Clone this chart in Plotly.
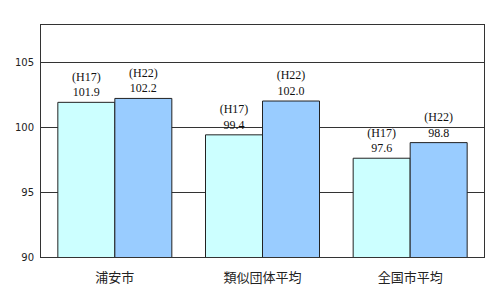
import plotly.graph_objects as go

categories = ["浦安市", "類似団体平均", "全国市平均"]
h17_values = [101.9, 99.4, 97.6]
h22_values = [102.2, 102.0, 98.8]
series_names = ["H17", "H22"]
y_ticks = [90, 95, 100, 105]

def labels(name, vals):
    return [f"({name})<br>{v:.1f}" for v in vals]

fig = go.Figure()
for name, vals, color in [(series_names[0], h17_values, "#CCFFFF"),
                          (series_names[1], h22_values, "#99CCFF")]:
    fig.add_trace(go.Bar(
        x=categories, y=vals, name=name,
        marker=dict(color=color, line=dict(color="#222222", width=1)),
        text=labels(name, vals), textposition="outside",
        textfont=dict(family="Liberation Serif, DejaVu Serif", size=12, color="#111111"),
        cliponaxis=False,
    ))
fig.update_layout(
    width=500, height=294,
    margin=dict(l=41, r=16, t=25, b=37),
    paper_bgcolor="white", plot_bgcolor="white",
    barmode="group", bargap=0.228, bargroupgap=0,
    showlegend=False,
    uniformtext=dict(mode=False),
    font=dict(family="Noto Sans CJK JP, DejaVu Sans", color="#222222"),
)
fig.update_yaxes(
    range=[90, 107.85], tickvals=y_ticks, showgrid=True, gridcolor="#333333", gridwidth=1,
    showline=True, linecolor="#333333", linewidth=1, mirror=True, automargin=False,
    ticks="", ticklabelstandoff=4, tickfont=dict(size=10, family="DejaVu Sans"), zeroline=False,
)
fig.update_xaxes(
    showline=True, linecolor="#333333", linewidth=1, mirror=True, automargin=False,
    ticks="", ticklabelstandoff=8, tickfont=dict(size=13, family="Noto Sans CJK JP"),
)
fig.write_html("out.html")
